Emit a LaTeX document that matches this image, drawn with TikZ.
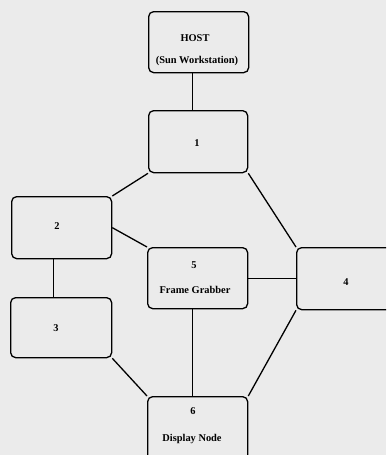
\documentclass[tikz,border=0pt]{standalone}
\usepackage{fontspec}
\setmainfont{Liberation Serif}
\begin{document}
\begin{tikzpicture}[x=1pt,y=-1pt,
  box/.style={draw, line width=1.3pt, rounded corners=5pt, inner sep=0pt, anchor=north west},
  lbl/.style={font=\bfseries\fontsize{10.4}{12}\selectfont, inner sep=0pt},
  wire/.style={line width=1.3pt}]
\fill[black!8] (0,0) rectangle (386,455);
\useasboundingbox (0,0) rectangle (386,455);
\clip (0,0) rectangle (386,455);
% boxes
\node[box, minimum width=100pt, minimum height=61pt] (b0) at (148,11) {};
\node[box, minimum width=99pt, minimum height=62pt] (b1) at (148,110) {};
\node[box, minimum width=100pt, minimum height=62pt] (b2) at (11,196) {};
\node[box, minimum width=101pt, minimum height=60pt] (b3) at (10,297) {};
\node[box, minimum width=100pt, minimum height=61pt] (b5) at (147,247) {};
\node[box, minimum width=110pt, minimum height=62pt] (b4) at (296,247) {};
\node[box, minimum width=100pt, minimum height=70pt] (b6) at (147,396) {};
% labels
\node[lbl] (t0a) at (195,38) {HOST};
\node[lbl] (t0b) at (197,61) {(Sun Workstation)};
\node[lbl] (t1) at (197,143) {1};
\node[lbl] (t2) at (57,226) {2};
\node[lbl] (t3) at (56,328) {3};
\node[lbl] (t5) at (194,265) {5};
\node[lbl] (t5b) at (195,290) {Frame Grabber};
\node[lbl] (t4) at (346,282) {4};
\node[lbl] (t6) at (193,411) {6};
\node[lbl] (t6b) at (192,439) {Display Node};
% connectors
\draw[wire] ([xshift=-6pt]b0.south) -- ([xshift=-6pt]b0.south |- b1.north);
\draw[wire] (b1.south west) -- (b2.north east);
\draw[wire] (b1.south east) -- (b4.north west);
\draw[wire] (b2.east) -- (b5.north west);
\draw[wire] ([xshift=-8pt]b2.south) -- ([xshift=-8pt]b2.south |- b3.north);
\draw[wire] (b5.east) -- (b5.east -| b4.west);
\draw[wire] ([xshift=-5pt]b5.south) -- ([xshift=-5pt]b5.south |- b6.north);
\draw[wire] (b3.south east) -- (b6.north west);
\draw[wire] (b4.south west) -- (b6.north east);
\end{tikzpicture}
\end{document}
